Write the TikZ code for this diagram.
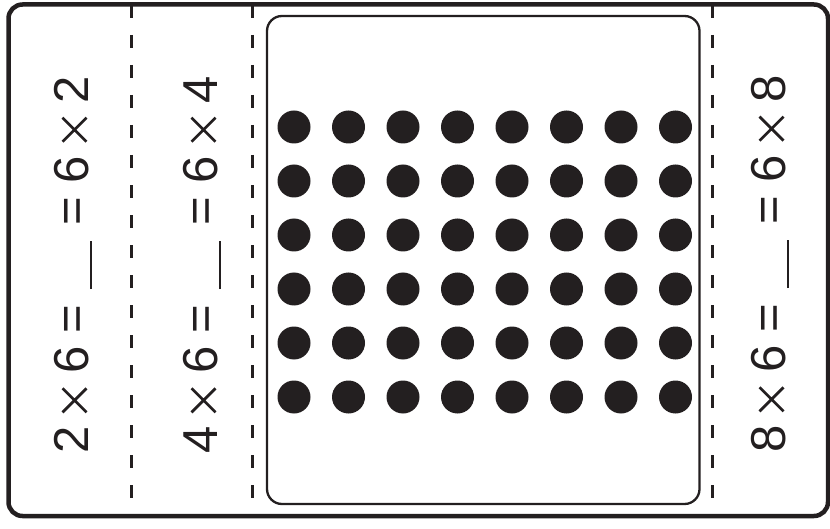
\documentclass[tikz,border=0pt]{standalone}
\usepackage{xcolor}
\usepackage{fontspec}
\setmainfont{Liberation Sans}
\usepackage{tikz}
\usetikzlibrary{positioning}

\definecolor{ink}{HTML}{231F20}
\newcommand\gapsp{\hspace{13bp}}
\newcommand\timesign{\hspace{13bp}\tikz[x=1bp,y=1bp,baseline=0bp]{\draw[ink,line width=2.8bp] (0,1.5) -- (24,25.5) (0,25.5) -- (24,1.5);}\hspace{13bp}}
\newcommand\blankline{\hspace{3bp}\rule[-4bp]{48bp}{2bp}\hspace{3bp}}
\newcommand\factline[2]{#1\timesign#2\gapsp=\gapsp\blankline\gapsp=\gapsp#2\timesign#1}

\begin{document}
\begin{tikzpicture}[
    x=1bp, y=-1bp,
    frame/.style={
        draw=ink,
        line width=4.5bp,
        rounded corners=14bp
    },
    tray/.style={
        draw=ink,
        line width=2.3bp,
        rounded corners=15bp
    },
    fold/.style={
        draw=ink,
        line width=3bp,
        dash pattern=on 13bp off 17bp
    },
    dot/.style={
        circle,
        fill=ink,
        minimum size=33bp,
        inner sep=0pt
    },
    fact/.style={
        rotate=90,
        anchor=base,
        inner sep=0pt,
        text=ink,
        font=\fontsize{49bp}{50bp}\selectfont
    }
]

\useasboundingbox (0,0) rectangle (830,529);

% Outer card
\draw[frame] (8.5,4.5) rectangle (828,516);

% Fold lines
\coordinate (foldA top) at (131,5);
\coordinate (foldA bot) at (131,516);
\coordinate (foldB top) at (252,5);
\coordinate (foldB bot) at (252,516);
\coordinate (foldC top) at (712,5);
\coordinate (foldC bot) at (712,516);

\draw[fold] (foldA top) -- (foldA bot);
\draw[fold] (foldB top) -- (foldB bot);
\draw[fold] (foldC top) -- (foldC bot);

% Dot window
\draw[tray] (267,16) rectangle (699.5,504);

% 6 rows of 8 dots
\foreach \row in {0,...,5}{
    \foreach \col in {0,...,7}{
        \node[dot] (dot-\row-\col) at ({294+54.5*\col},{127+54*\row}) {};
    }
}

% Facts
\node[fact] (twos) at (88,265) {\factline{2}{6}};
\node[fact] (fours) at (217,265) {\factline{4}{6}};
\node[fact] (eights) at (785,264) {\factline{8}{6}};

\end{tikzpicture}
\end{document}
